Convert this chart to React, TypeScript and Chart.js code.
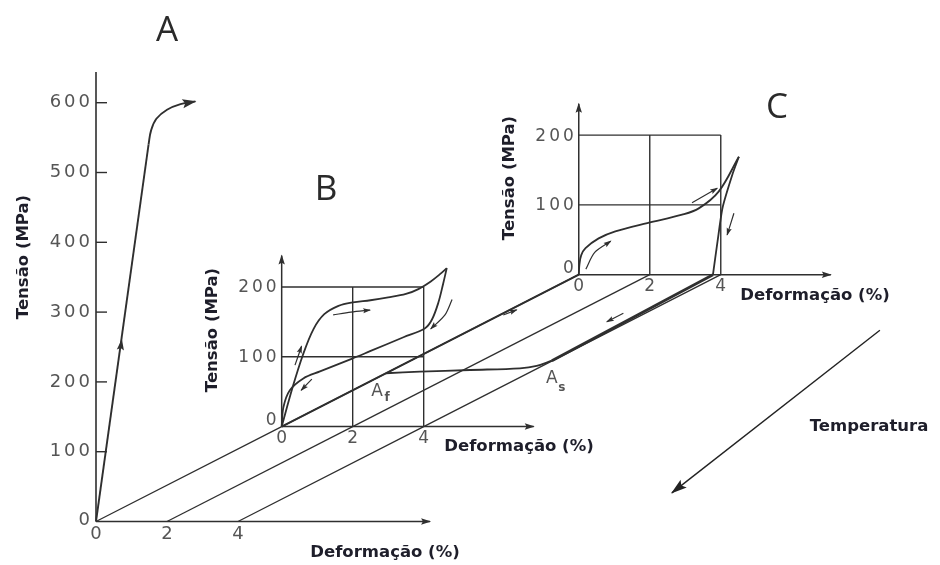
import React, { useEffect, useRef } from "react";
import { Chart, registerables } from "chart.js";

Chart.register(...registerables);

// ---------------- data ----------------
const panelNames = ["A", "B", "C"];
const panelLevels = [0, 1, 2.6]; // temperature level of each panel along the oblique axis (A hottest)

const stressTicksA = [0, 100, 200, 300, 400, 500, 600];
const stressTicksBC = [0, 100, 200];
const strainTicks = [0, 2, 4];

// Panel A: elastic loading then yielding
const aElasticStrain = [0, 1.48];
const aElasticStress = [0, 540];
const aYieldStrain = [1.48, 1.55, 1.7, 2.0, 2.38, 2.8];
const aYieldStress = [540, 560, 577, 590, 598, 602];

// Panel B: superelastic loop
const bLoadStrain = [0, 0.3, 0.6, 0.9, 1.2, 1.6, 2.0, 2.5, 3.0, 3.5, 3.85, 4.2, 4.45, 4.65];
const bLoadStress = [0, 55, 103, 140, 161, 173, 178, 181, 185, 190, 197, 208, 218, 227];
const bUnloadStrain = [4.65, 4.55, 4.41, 4.23, 4.04, 3.43, 2.49, 1.97, 1.08, 0.61, 0.23, 0.05, 0];
const bUnloadStress = [227, 205, 177, 153, 141, 128, 108, 97, 79, 69, 52, 28, 0];

// Panel C: martensite deformation, residual strain after unloading
const cLoadStrain = [0, 0.02, 0.07, 0.19, 0.56, 1.03, 1.93, 2.91, 3.38, 3.94, 4.51];
const cLoadStress = [0, 15, 28, 38, 52, 62, 74, 86, 95, 119, 169];
const cUnloadStrain = [4.51, 4.33, 4.05, 3.91, 3.78];
const cUnloadStress = [169, 144, 96, 48, 0];

// Heating: residual strain kept down to As, recovered between As and Af
const heatStrain = [3.78, 3.98];
const heatLevel = [2.6, 1.694];
const recoveryStrain = [3.98, 3.84, 3.5, 2.19, 0.87, 0];
const recoveryLevel = [1.694, 1.639, 1.614, 1.596, 1.578, 1.562];

// Small direction arrows (strain, stress) inside panels
const bArrowUpStrain = [0.375, 0.56];
const bArrowUpStress = [88, 115];
const bArrowPlateauStrain = [1.45, 1.95, 2.49];
const bArrowPlateauStress = [160, 164, 167];
const bArrowDownStrain = [4.8, 4.6, 4.2];
const bArrowDownStress = [182, 160, 140];
const bArrowBackStrain = [0.85, 0.55];
const bArrowBackStress = [68, 52];
const cArrowStartStrain = [0.2, 0.45, 0.9];
const cArrowStartStress = [8, 32, 48];
const cArrowTopStrain = [3.19, 3.9];
const cArrowTopStress = [103, 124];
const cArrowDownStrain = [4.37, 4.18];
const cArrowDownStress = [88, 57];
// arrows along the temperature direction (strain, level)
const coolArrowStrain = [0.09, 0.19];
const coolArrowLevel = [2.176, 2.229];
const heatArrowStrain = [3.38, 3.38];
const heatArrowLevel = [2.194, 2.105];

// "Temperatura" arrow, in chart coordinates
const temperatureArrowX = [22.08, 16.22];
const temperatureArrowY = [274, 41];

// ---------------- projection / layout ----------------
const LEVEL_STRAIN = 5.23; // oblique shift per temperature level (strain units)
const LEVEL_STRESS = 136; // oblique shift per temperature level (stress units)
const P = (s: number, v: number, lvl: number) => ({ x: s + lvl * LEVEL_STRAIN, y: v + lvl * LEVEL_STRESS });
const zip = (s: number[], v: number[], lvl: number) => s.map((x, i) => P(x, v[i], lvl));

const INK = "#2f2f2f";
const TITLE = "#1e1e2a";
const NUM = "#555555";

function line(data: any[], width = 1.4, extra: any = {}) {
  return {
    data,
    showLine: true,
    pointRadius: 0,
    pointHoverRadius: 0,
    borderColor: INK,
    backgroundColor: INK,
    borderWidth: width,
    tension: 0,
    clip: false,
    fill: false,
    ...extra,
  };
}

function buildDatasets() {
  const ds: any[] = [];
  const [lA, lB, lC] = panelLevels;
  const small = { len: 7, half: 2.6 };
  const axisHead = { len: 9, half: 3.2 };

  // Panel A axes
  ds.push(line([P(0, 644, lA), P(0, 0, lA)], 1.6));
  ds.push(line([P(0, 0, lA), P(9.41, 0, lA)], 1.6, { arrow: axisHead }));

  // oblique strain lines
  strainTicks.forEach((s) => ds.push(line(panelLevels.map((l) => P(s, 0, l)), 1.3)));
  ds.push(line([P(0, 0, lB), P(0, 0, lC)], 2.0));

  // Panels B and C frames
  [lB, lC].forEach((l) => {
    ds.push(line([P(0, 0, l), P(0, 245, l)], 1.5, { arrow: axisHead }));
    ds.push(line([P(0, 0, l), P(7.1, 0, l)], 1.5, { arrow: axisHead }));
    [2, 4].forEach((s) => ds.push(line([P(s, 0, l), P(s, 200, l)], 1.4)));
    [100, 200].forEach((v) => ds.push(line([P(0, v, l), P(4, v, l)], 1.4)));
  });

  // Panel A curve
  ds.push(line(zip(aElasticStrain, aElasticStress, lA), 1.9));
  ds.push(line(zip(aYieldStrain, aYieldStress, lA), 1.9, { tension: 0.4, arrow: { len: 13, half: 4.5 } }));
  ds.push(line([P(0.6, 215, lA), P(0.726, 260, lA)], 1, { showLine: false, arrow: { len: 10, half: 3.6 } }));

  // Panel B curves
  ds.push(line(zip(bLoadStrain, bLoadStress, lB), 1.8, { tension: 0.35 }));
  ds.push(line(zip(bUnloadStrain, bUnloadStress, lB), 1.8, { tension: 0.35 }));

  // Panel C curves
  ds.push(line(zip(cLoadStrain, cLoadStress, lC), 1.8, { tension: 0.35 }));
  ds.push(line(zip(cUnloadStrain, cUnloadStress, lC), 1.8, { tension: 0.2 }));

  // heating / recovery path
  ds.push(line(heatStrain.map((s, i) => P(s, 0, heatLevel[i])), 2.8));
  ds.push(line(recoveryStrain.map((s, i) => P(s, 0, recoveryLevel[i])), 1.8, { tension: 0.35 }));

  // small arrows
  const arr = (s: number[], v: number[], l: number) => line(zip(s, v, l), 1.2, { tension: 0.3, arrow: small });
  ds.push(arr(bArrowUpStrain, bArrowUpStress, lB));
  ds.push(arr(bArrowPlateauStrain, bArrowPlateauStress, lB));
  ds.push(arr(bArrowDownStrain, bArrowDownStress, lB));
  ds.push(arr(bArrowBackStrain, bArrowBackStress, lB));
  ds.push(arr(cArrowStartStrain, cArrowStartStress, lC));
  ds.push(arr(cArrowTopStrain, cArrowTopStress, lC));
  ds.push(arr(cArrowDownStrain, cArrowDownStress, lC));
  ds.push(line(coolArrowStrain.map((s, i) => P(s, 0, coolArrowLevel[i])), 1.2, { arrow: small }));
  ds.push(line(heatArrowStrain.map((s, i) => P(s, 0, heatArrowLevel[i])), 1.2, { arrow: small }));

  // Temperatura arrow
  ds.push(
    line(
      temperatureArrowX.map((x, i) => ({ x, y: temperatureArrowY[i] })),
      1.4,
      { borderColor: "#222", backgroundColor: "#222", arrow: { len: 15, half: 5 } }
    )
  );
  return ds;
}

function drawHead(ctx: CanvasRenderingContext2D, x0: number, y0: number, x1: number, y1: number, len: number, half: number, color: string) {
  const ang = Math.atan2(y1 - y0, x1 - x0);
  ctx.save();
  ctx.translate(x1, y1);
  ctx.rotate(ang);
  ctx.beginPath();
  ctx.moveTo(1, 0);
  ctx.lineTo(-len, half);
  ctx.lineTo(-len * 0.8, 0);
  ctx.lineTo(-len, -half);
  ctx.closePath();
  ctx.fillStyle = color;
  ctx.fill();
  ctx.restore();
}

function text(
  ctx: CanvasRenderingContext2D,
  str: string,
  x: number,
  y: number,
  font: string,
  color: string,
  align: CanvasTextAlign = "center",
  rot = 0,
  spacing = "0px"
) {
  ctx.save();
  ctx.translate(x, y);
  if (rot) ctx.rotate(rot);
  ctx.font = font;
  (ctx as any).letterSpacing = spacing;
  ctx.fillStyle = color;
  ctx.textAlign = align;
  ctx.textBaseline = "middle";
  ctx.fillText(str, 0, 0);
  ctx.restore();
}

const overlay = {
  id: "overlay",
  afterDatasetsDraw(chart: any) {
    const ctx: CanvasRenderingContext2D = chart.ctx;
    const xs = chart.scales.x;
    const ys = chart.scales.y;
    const px = (p: { x: number; y: number }) => [xs.getPixelForValue(p.x), ys.getPixelForValue(p.y)];

    // arrowheads
    chart.data.datasets.forEach((d: any, i: number) => {
      if (!d.arrow) return;
      const pts = chart.getDatasetMeta(i).data;
      const n = pts.length;
      if (n < 2) return;
      drawHead(ctx, pts[n - 2].x, pts[n - 2].y, pts[n - 1].x, pts[n - 1].y, d.arrow.len, d.arrow.half, d.borderColor);
    });

    const [lA, lB, lC] = panelLevels;
    const numA = "18px 'DejaVu Sans'";
    const numBC = "17px 'DejaVu Sans'";

    // Panel A ticks
    ctx.save();
    ctx.strokeStyle = INK;
    ctx.lineWidth = 1.4;
    stressTicksA.forEach((v) => {
      const [x, y] = px(P(0, v, lA));
      if (v > 0) {
        ctx.beginPath();
        ctx.moveTo(x, y);
        ctx.lineTo(x + 11, y);
        ctx.stroke();
      }
      text(ctx, String(v), x - 3, y + (v === 0 ? -1 : 0), numA, NUM, "right", 0, "3px");
    });
    ctx.restore();
    strainTicks.forEach((s) => {
      const [x, y] = px(P(s, 0, lA));
      text(ctx, String(s), x + 1.5, y + 13, numA, NUM, "center", 0, "3px");
    });

    // Panels B and C ticks
    [lB, lC].forEach((l) => {
      stressTicksBC.forEach((v) => {
        const [x, y] = px(P(0, v, l));
        text(ctx, String(v), x - 2, y + (v === 0 ? -6 : 1), numBC, NUM, "right", 0, "3px");
      });
      strainTicks.forEach((s) => {
        const [x, y] = px(P(s, 0, l));
        text(ctx, String(s), x + 1.5, y + 12, numBC, NUM, "center", 0, "3px");
      });
    });

    // axis titles
    const titleFont = "bold 16.5px 'DejaVu Sans'";
    text(ctx, "Tensão (MPa)", 24, 257, titleFont, TITLE, "center", -Math.PI / 2);
    text(ctx, "Tensão (MPa)", 213, 330, titleFont, TITLE, "center", -Math.PI / 2);
    text(ctx, "Tensão (MPa)", 510, 178, titleFont, TITLE, "center", -Math.PI / 2);
    text(ctx, "Deformação (%)", 385, 553, titleFont, TITLE, "center");
    text(ctx, "Deformação (%)", 519, 447, titleFont, TITLE, "center");
    text(ctx, "Deformação (%)", 815, 296, titleFont, TITLE, "center");
    text(ctx, "Temperatura", 869, 427, titleFont, TITLE, "center");

    // panel letters
    const letterFont = "35px 'Open Sans'";
    const letterPos = [
      [167, 31],
      [326, 190],
      [777, 108],
    ];
    panelNames.forEach((n, i) => text(ctx, n, letterPos[i][0], letterPos[i][1], letterFont, "#2a2a2a", "center"));

    // Af / As labels
    const af = px(P(recoveryStrain[recoveryStrain.length - 1], 0, recoveryLevel[recoveryLevel.length - 1]));
    const as = px(P(recoveryStrain[0], 0, recoveryLevel[0]));
    text(ctx, "A", af[0] - 9, af[1] + 18, "17px 'DejaVu Sans'", NUM, "center");
    text(ctx, "f", af[0] + 1, af[1] + 25, "bold 12px 'DejaVu Sans'", NUM, "center");
    text(ctx, "A", as[0], as[1] + 18, "17px 'DejaVu Sans'", NUM, "center");
    text(ctx, "s", as[0] + 10, as[1] + 27, "bold 12px 'DejaVu Sans'", NUM, "center");
  },
};

export default function App() {
  const ref = useRef<HTMLCanvasElement | null>(null);
  useEffect(() => {
    if (!ref.current) return;
    const chart = new Chart(ref.current, {
      type: "scatter",
      data: { datasets: buildDatasets() },
      options: {
        animation: false,
        responsive: false,
        devicePixelRatio: 1,
        events: [],
        layout: { padding: { left: 96, top: 72, right: 16.8, bottom: 43.5 }, autoPadding: false },
        scales: {
          x: { type: "linear", min: 0, max: 23.3, display: false },
          y: { type: "linear", min: 0, max: 644, display: false },
        },
        plugins: { legend: { display: false }, tooltip: { enabled: false }, title: { display: false } },
      } as any,
      plugins: [overlay as any],
    });
    return () => chart.destroy();
  }, []);
  return (
    <div style={{ position: "fixed", left: 0, top: 0, width: 940, height: 565, background: "#fff" }}>
      <canvas ref={ref} width={940} height={565} style={{ display: "block", width: 940, height: 565 }} />
    </div>
  );
}
